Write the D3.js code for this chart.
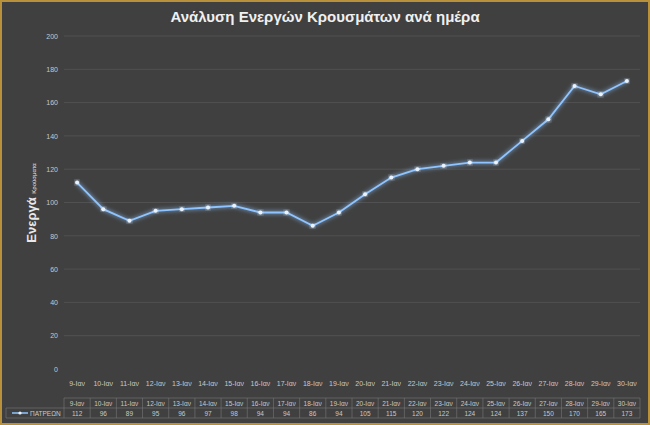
<!DOCTYPE html><html><head><meta charset="utf-8"><script src="https://cdn.jsdelivr.net/npm/d3@7"></script>
<style>body{margin:0;background:#3a3a3a}</style></head><body><svg id="c" width="650" height="425"></svg>
<script>
const categories=["9-Ιαν","10-Ιαν","11-Ιαν","12-Ιαν","13-Ιαν","14-Ιαν","15-Ιαν","16-Ιαν","17-Ιαν","18-Ιαν","19-Ιαν","20-Ιαν","21-Ιαν","22-Ιαν","23-Ιαν","24-Ιαν","25-Ιαν","26-Ιαν","27-Ιαν","28-Ιαν","29-Ιαν","30-Ιαν"];
const values=[112,96,89,95,96,97,98,94,94,86,94,105,115,120,122,124,124,137,150,170,165,173];
const yTicks=[0,20,40,60,80,100,120,140,160,180,200];
const seriesName="ΠΑΤΡΕΩΝ";
const svg=d3.select("#c");
const defs=svg.append("defs");
const f=defs.append("filter").attr("id","glow").attr("x","-20%").attr("y","-20%").attr("width","140%").attr("height","140%");
f.append("feGaussianBlur").attr("stdDeviation",2.2).attr("result","b");
const m=f.append("feMerge");m.append("feMergeNode").attr("in","b");m.append("feMergeNode").attr("in","SourceGraphic");
svg.append("rect").attr("width",650).attr("height",425).attr("fill","#b8913a");
svg.append("rect").attr("x",2).attr("y",2).attr("width",646).attr("height",421).attr("fill","#404040");
const x=d3.scaleBand().domain(categories).range([64,640]);
const y=d3.scaleLinear().domain([0,200]).range([369,36]);
const font="Liberation Sans, Arial, sans-serif";
svg.append("text").attr("x",325).attr("y",22).attr("text-anchor","middle").attr("fill","#f0f0f0").attr("font-family",font).attr("font-size",15).attr("font-weight","bold").text("Ανάλυση Ενεργών Κρουσμάτων ανά ημέρα");
svg.append("g").selectAll("line").data(yTicks.slice(1)).join("line").attr("x1",64).attr("x2",640).attr("y1",d=>y(d)).attr("y2",d=>y(d)).attr("stroke","#555").attr("stroke-width",0.8);
const ya=svg.append("g").attr("transform","translate(64,0)").call(d3.axisLeft(y).tickValues(yTicks).tickSize(0).tickPadding(6));
ya.select(".domain").remove();
ya.selectAll("text").attr("fill","#c8c8c8").attr("font-size",7).attr("font-family",font);
const xa=svg.append("g").attr("transform","translate(0,369)").call(d3.axisBottom(x).tickSize(0).tickPadding(12));
xa.select(".domain").remove();
xa.selectAll("text").attr("fill","#c8c8c8").attr("font-size",7).attr("font-family",font);
const yl=svg.append("text").attr("transform","translate(36,203) rotate(-90)").attr("text-anchor","middle").attr("font-family",font).attr("fill","#e8e8e8");
yl.append("tspan").attr("font-size",13).attr("font-weight","bold").text("Ενεργά ");
yl.append("tspan").attr("font-size",6).text("Κρούσματα");
const cx=d=>x(d)+x.bandwidth()/2;
const line=d3.line().x((d,i)=>cx(categories[i])).y(d=>y(d));
svg.append("path").datum(values).attr("d",line).attr("fill","none").attr("stroke","#8fc4ff").attr("stroke-width",1.8).attr("filter","url(#glow)");
svg.append("g").selectAll("circle").data(values).join("circle").attr("cx",(d,i)=>cx(categories[i])).attr("cy",d=>y(d)).attr("r",2).attr("fill","#e8f3ff").attr("filter","url(#glow)");
// table
const t=svg.append("g");
const r1=398,r2=408,r3=418,lx=6;
t.append("line").attr("x1",64).attr("x2",640).attr("y1",r1).attr("y2",r1).attr("stroke","#777").attr("stroke-width",0.6);
[r2,r3].forEach(yy=>t.append("line").attr("x1",lx).attr("x2",640).attr("y1",yy).attr("y2",yy).attr("stroke","#777").attr("stroke-width",0.6));
t.append("line").attr("x1",lx).attr("x2",lx).attr("y1",r2).attr("y2",r3).attr("stroke","#777").attr("stroke-width",0.6);
t.selectAll("line.v").data(categories).join("line").attr("x1",d=>x(d)).attr("x2",d=>x(d)).attr("y1",r1).attr("y2",r3).attr("stroke","#777").attr("stroke-width",0.6);
t.append("line").attr("x1",640).attr("x2",640).attr("y1",r1).attr("y2",r3).attr("stroke","#777").attr("stroke-width",0.6);
t.selectAll("text.h").data(categories).join("text").attr("x",d=>cx(d)).attr("y",r1+7.5).attr("text-anchor","middle").attr("fill","#c8c8c8").attr("font-size",6.5).attr("font-family",font).text(d=>d);
t.selectAll("text.v").data(values).join("text").attr("x",(d,i)=>cx(categories[i])).attr("y",r2+7.5).attr("text-anchor","middle").attr("fill","#c8c8c8").attr("font-size",6.5).attr("font-family",font).text(d=>d);
t.append("line").attr("x1",12).attr("x2",28).attr("y1",r2+5).attr("y2",r2+5).attr("stroke","#8fc4ff").attr("stroke-width",1.5);
t.append("circle").attr("cx",20).attr("cy",r2+5).attr("r",1.6).attr("fill","#e8f3ff");
t.append("text").attr("x",30).attr("y",r2+7.5).attr("fill","#c8c8c8").attr("font-size",6.5).attr("font-family",font).text(seriesName);
</script></body></html>
